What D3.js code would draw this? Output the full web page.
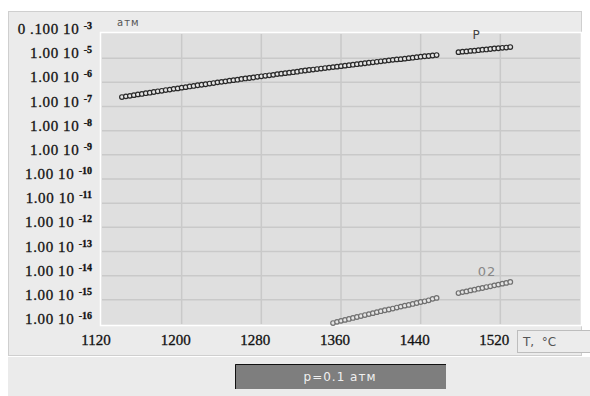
<!DOCTYPE html>
<html>
<head>
<meta charset="utf-8">
<script src="https://cdn.jsdelivr.net/npm/d3@7"></script>
<style>
  body { margin: 0; background: #fff; }
  svg { display: block; }
</style>
</head>
<body>
<div id="chart"></div>
<script>
// temperature, °C
const tP1 = d3.range(1140, 1457, 4);
const tP2 = d3.range(1478, 1531, 4);
const tO1 = d3.range(1352, 1457, 4);
const tO2 = d3.range(1478, 1531, 4);

// log10 of pressure, атм
const pLog1 = [-6.61, -6.58, -6.56, -6.53, -6.50, -6.48, -6.45, -6.43, -6.40, -6.37,
  -6.35, -6.32, -6.30, -6.27, -6.25, -6.22, -6.20, -6.17, -6.15, -6.12,
  -6.10, -6.08, -6.05, -6.03, -6.00, -5.98, -5.96, -5.93, -5.91, -5.89,
  -5.86, -5.84, -5.82, -5.80, -5.77, -5.75, -5.73, -5.71, -5.69, -5.66,
  -5.64, -5.62, -5.60, -5.58, -5.56, -5.53, -5.51, -5.49, -5.47, -5.45,
  -5.43, -5.41, -5.39, -5.37, -5.35, -5.33, -5.31, -5.29, -5.27, -5.25,
  -5.23, -5.21, -5.19, -5.17, -5.15, -5.13, -5.11, -5.09, -5.07, -5.05,
  -5.04, -5.02, -5.00, -4.98, -4.96, -4.94, -4.92, -4.91, -4.89, -4.87];
const pLog2 = [-4.75, -4.73, -4.72, -4.70, -4.69, -4.67, -4.65, -4.64, -4.62, -4.60,
  -4.59, -4.57, -4.56, -4.54];
const o2Log1 = [-15.96, -15.91, -15.87, -15.83, -15.79, -15.75, -15.71, -15.67, -15.63,
  -15.59, -15.55, -15.51, -15.47, -15.43, -15.40, -15.36, -15.32, -15.28, -15.24,
  -15.21, -15.17, -15.13, -15.09, -15.06, -15.02, -14.96, -14.92];
const o2Log2 = [-14.72, -14.68, -14.65, -14.61, -14.58, -14.54, -14.51, -14.47, -14.44,
  -14.40, -14.37, -14.33, -14.30, -14.26];

const xTicks = [1120, 1200, 1280, 1360, 1440, 1520];
const yExps = [-4, -5, -6, -7, -8, -9, -10, -11, -12, -13, -14, -15, -16];
const yMant = ['0 .100', '1.00', '1.00', '1.00', '1.00', '1.00', '1.00', '1.00', '1.00', '1.00', '1.00', '1.00', '1.00'];
const yPow = ['-3', '-5', '-6', '-7', '-8', '-9', '-10', '-11', '-12', '-13', '-14', '-15', '-16'];

const W = 590, H = 396;
const plot = { left: 102, top: 34, right: 580, bottom: 324 };

const svg = d3.select('#chart').append('svg')
  .attr('width', W)
  .attr('height', H);

const x = d3.scaleLinear().domain([1120, 1600]).range([plot.left, plot.right]);
const y = d3.scaleLog().domain([1e-16, 1e-4]).range([plot.bottom, plot.top]);

// panels
svg.append('rect').attr('x', 8.5).attr('y', 11.5).attr('width', 573).attr('height', 344)
  .attr('fill', '#ebebeb').attr('stroke', '#cfcfcf');
svg.append('rect').attr('x', 8).attr('y', 357).attr('width', 582).attr('height', 39)
  .attr('fill', '#ebebeb');

// plot area
svg.append('rect')
  .attr('x', plot.left - 1.5).attr('y', plot.top - 1.5)
  .attr('width', plot.right - plot.left + 3).attr('height', plot.bottom - plot.top + 3)
  .attr('fill', '#dfdfdf').attr('stroke', '#fff').attr('stroke-width', 1.5);

const grid = svg.append('g').attr('stroke', '#c9c9c9').attr('stroke-width', 1.5);
grid.selectAll('.gy').data(yExps.slice(1, -1)).join('line')
  .attr('x1', plot.left).attr('x2', plot.right)
  .attr('y1', d => y(Math.pow(10, d))).attr('y2', d => y(Math.pow(10, d)));
grid.selectAll('.gx').data(xTicks.slice(1)).join('line')
  .attr('y1', plot.top).attr('y2', plot.bottom)
  .attr('x1', d => x(d)).attr('x2', d => x(d));

// y labels
const yl = svg.append('g')
  .attr('font-family', '"Liberation Serif", "DejaVu Serif", serif')
  .attr('fill', '#111').attr('stroke', '#111').attr('stroke-width', 0.3);
yExps.forEach((e, i) => {
  const t = yl.append('text')
    .attr('x', 92).attr('y', y(Math.pow(10, e)))
    .attr('text-anchor', 'end')
    .attr('font-size', 15)
    .attr('xml:space', 'preserve');
  t.append('tspan').attr('letter-spacing', 0.6).text(yMant[i] + ' 10 ');
  t.append('tspan').attr('dy', -5).attr('font-size', 10).attr('font-weight', 'bold').text(yPow[i]);
});

// x labels
svg.append('g')
  .attr('font-family', '"Liberation Serif", "DejaVu Serif", serif')
  .attr('font-size', 15).attr('fill', '#111').attr('stroke', '#111').attr('stroke-width', 0.3)
  .selectAll('text').data(xTicks).join('text')
  .attr('x', d => x(d) - 6).attr('y', 345)
  .attr('text-anchor', 'middle')
  .text(d => d);

// units
svg.append('text').attr('x', 117).attr('y', 26)
  .attr('font-family', '"DejaVu Sans", sans-serif').attr('font-size', 10)
  .attr('letter-spacing', 1).attr('fill', '#555').text('атм');

svg.append('rect').attr('x', 517.5).attr('y', 330.5).attr('width', 75).attr('height', 22)
  .attr('fill', '#ececec').attr('stroke', '#bdbdbd');
svg.append('text').attr('x', 523).attr('y', 346)
  .attr('font-family', '"DejaVu Sans", sans-serif').attr('font-size', 12)
  .attr('fill', '#555').attr('xml:space', 'preserve').text('T,  °C');

// series
function drawSeries(ts, logs, stroke) {
  const pts = ts.map((t, i) => ({ t: t, p: Math.pow(10, logs[i]) }));
  svg.append('g').selectAll('circle').data(pts).join('circle')
    .attr('cx', d => x(d.t))
    .attr('cy', d => y(d.p))
    .attr('r', 2.3)
    .attr('fill', '#e4e4e4')
    .attr('stroke', stroke)
    .attr('stroke-width', 1.2);
}
drawSeries(tP1, pLog1, '#2a2a2a');
drawSeries(tP2, pLog2, '#2a2a2a');
drawSeries(tO1, o2Log1, '#707070');
drawSeries(tO2, o2Log2, '#707070');

svg.append('text').attr('x', 476).attr('y', 39).attr('text-anchor', 'middle')
  .attr('font-family', '"DejaVu Sans", sans-serif').attr('font-size', 12)
  .attr('fill', '#444').text('P');
svg.append('text').attr('x', 487).attr('y', 276).attr('text-anchor', 'middle')
  .attr('font-family', '"DejaVu Sans", sans-serif').attr('font-size', 13)
  .attr('letter-spacing', 1).attr('fill', '#888').text('02');

// pressure button
svg.append('rect').attr('x', 235).attr('y', 364).attr('width', 211).attr('height', 25)
  .attr('fill', '#7e7e7e');
svg.append('path').attr('d', 'M235.5,389 V364.5 H446')
  .attr('fill', 'none').attr('stroke', '#111');
svg.append('text').attr('x', 340).attr('y', 381).attr('text-anchor', 'middle')
  .attr('font-family', '"DejaVu Sans", sans-serif').attr('font-size', 12)
  .attr('letter-spacing', 1).attr('fill', '#f0f0f0').text('p=0.1 атм');
</script>
</body>
</html>
